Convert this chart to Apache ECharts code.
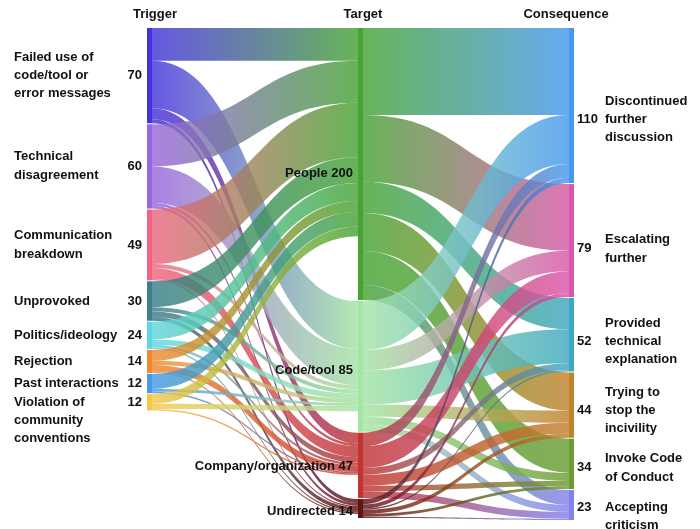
<!DOCTYPE html>
<html>
<head>
    <meta charset="UTF-8">
    <title>Trigger / Target / Consequence</title>
    <script type="text/javascript" src="https://cdn.jsdelivr.net/npm/echarts@6/dist/echarts.min.js"></script>
    <style>
        html, body { margin: 0; padding: 0; background: #fff; }
        #chart { width: 700px; height: 529px; }
    </style>
</head>
<body>
<div id="chart"></div>

<script type="text/javascript">
    // columns
    var columnTitles = ['Trigger', 'Target', 'Consequence'];

    // labels (the printed counts)
    var triggerNames = ['Failed use of\ncode/tool or\nerror messages', 'Technical\ndisagreement', 'Communication\nbreakdown',
        'Unprovoked', 'Politics/ideology', 'Rejection', 'Past interactions', 'Violation of\ncommunity\nconventions'];
    var triggerValues = [70, 60, 49, 30, 24, 14, 12, 12];

    var targetNames = ['People', 'Code/tool', 'Company/organization', 'Undirected'];
    var targetValues = [200, 85, 47, 14];

    var consequenceNames = ['Discontinued\nfurther\ndiscussion', 'Escalating\nfurther', 'Provided\ntechnical\nexplanation',
        'Trying to\nstop the\nincivility', 'Invoke Code\nof Conduct', 'Accepting\ncriticism'];
    var consequenceValues = [110, 79, 52, 44, 34, 23];

    // flows (node heights follow these): rows = trigger, cols = People, Code/tool, Company/organization, Undirected
    var triggerToTarget = [
        [24, 35, 8, 3],
        [31, 27, 2, 2],
        [40, 3, 8, 1],
        [19, 3, 4, 3],
        [13, 4, 2, 1],
        [8, 3, 5, 1],
        [11, 2, 1, 0],
        [7, 4, 1, 0]
    ];
    // rows = target, cols = consequences in order above
    var targetToConsequence = [
        [64, 49, 23, 28, 25, 11],
        [36, 15, 25, 9, 6, 5],
        [10, 16, 5, 8, 4, 5],
        [4, 3, 1, 3, 2, 1]
    ];

    // colours
    var triggerColors = ['#4433dd', '#9966dd', '#ee6680', '#3a7f8a', '#5fd6df', '#f08a30', '#4499e8', '#f5c84a'];
    var targetColors = ['#46a334', '#a4e4a4', '#c03434', '#641414'];
    var consequenceColors = ['#4499ee', '#d857a8', '#3fa8c0', '#c0822c', '#6a9c32', '#8282ee'];

    // which text line the number sits on (x.5 = between two lines)
    var triggerValueRow = [1, 0.5, 0.5, 0, 0, 0, 0, 0];
    var consequenceValueRow = [1, 0.5, 1, 1, 0.5, 0];
    // small vertical nudges of the labels
    var targetLabelDy = [9, 4, 1, 3];
    var consequenceLabelDy = [14, 8, 7, 5, 4, 2];

    var FONT = 'Liberation Sans';

    function tok(extra) {
        var s = {fontFamily: FONT, fontSize: 13, fontWeight: 'bold', color: '#111'};
        for (var k in extra) s[k] = extra[k];
        return s;
    }

    // build rich text so that the number row is centred on the node
    function richLabel(name, value, row, valueFirst) {
        var lines = name.split('\n');
        var rows = [];
        lines.forEach(function (l, i) {
            rows.push({text: l, val: i === row ? String(value) : '', thin: false});
            if (i + 0.5 === row) rows.push({text: '', val: String(value), thin: true});
        });
        var idx = 0;
        rows.forEach(function (r, i) { if (r.val !== '') idx = i; });
        var above = idx, below = rows.length - 1 - idx;
        while (above < below) { rows.unshift({text: '', val: '', thin: false}); above++; }
        while (below < above) { rows.push({text: '', val: '', thin: false}); below++; }
        var nk = valueFirst ? 'cn' : 'tn', vk = valueFirst ? 'cv' : 'tv';
        return rows.map(function (r) {
            var n = '{' + nk + (r.thin ? 't' : '') + '|' + (r.text || ' ') + '}';
            var v = '{' + vk + (r.thin ? 't' : '') + '|' + (r.val || ' ') + '}';
            return valueFirst ? v + n : n + v;
        }).join('\n');
    }

    var nodes = [];
    var links = [];
    triggerNames.forEach(function (n, i) {
        nodes.push({
            name: n, col: 0, idx: i,
            itemStyle: {color: triggerColors[i]},
            label: {position: 'left', distance: 5}
        });
    });
    targetNames.forEach(function (n, i) {
        nodes.push({
            name: n, col: 1, idx: i,
            itemStyle: {color: targetColors[i]},
            label: {position: 'left', distance: 5, offset: [0, targetLabelDy[i]]}
        });
    });
    consequenceNames.forEach(function (n, i) {
        nodes.push({
            name: n, col: 2, idx: i,
            itemStyle: {color: consequenceColors[i]},
            label: {position: 'right', distance: 3, offset: [0, consequenceLabelDy[i]]}
        });
    });
    triggerToTarget.forEach(function (row, i) {
        row.forEach(function (v, j) {
            if (v > 0) links.push({source: triggerNames[i], target: targetNames[j], value: v});
        });
    });
    targetToConsequence.forEach(function (row, i) {
        row.forEach(function (v, j) {
            if (v > 0) links.push({source: targetNames[i], target: consequenceNames[j], value: v});
        });
    });

    var myChart = echarts.init(document.getElementById('chart'), null, {renderer: 'canvas'});
    var titleX = [155, 363, 566];
    var option = {
        animation: false,
        graphic: columnTitles.map(function (t, i) {
            return {
                type: 'text', x: titleX[i], y: 14,
                style: {text: t, fontFamily: FONT, fontSize: 13, fontWeight: 'bold', fill: '#111',
                    textAlign: 'center', textVerticalAlign: 'middle'}
            };
        }),
        series: [{
            type: 'sankey',
            left: 147,
            right: 126,
            top: 28,
            bottom: 9,
            nodeWidth: 5,
            nodeGap: 1,
            layoutIterations: 0,
            draggable: false,
            emphasis: {disabled: true},
            data: nodes,
            links: links,
            itemStyle: {borderWidth: 0},
            lineStyle: {color: 'gradient', opacity: 0.82, curveness: 0.5},
            label: {
                show: true,
                color: '#111',
                fontFamily: FONT,
                fontSize: 13,
                fontWeight: 'bold',
                formatter: function (p) {
                    var d = p.data;
                    if (d.col === 0) return richLabel(triggerNames[d.idx], triggerValues[d.idx], triggerValueRow[d.idx], false);
                    if (d.col === 2) return richLabel(consequenceNames[d.idx], consequenceValues[d.idx], consequenceValueRow[d.idx], true);
                    return '{g|' + targetNames[d.idx] + ' ' + targetValues[d.idx] + '}';
                },
                rich: {
                    tn: tok({width: 110, align: 'left', lineHeight: 18}),
                    tv: tok({width: 18, align: 'right', lineHeight: 18}),
                    tnt: tok({width: 110, align: 'left', lineHeight: 1}),
                    tvt: tok({width: 18, align: 'right', lineHeight: 1}),
                    cv: tok({width: 28, align: 'left', lineHeight: 18}),
                    cn: tok({align: 'left', lineHeight: 18}),
                    cvt: tok({width: 28, align: 'left', lineHeight: 1}),
                    cnt: tok({align: 'left', lineHeight: 1}),
                    g: tok({})
                }
            }
        }]
    };
    myChart.setOption(option);
</script>
</body>
</html>
